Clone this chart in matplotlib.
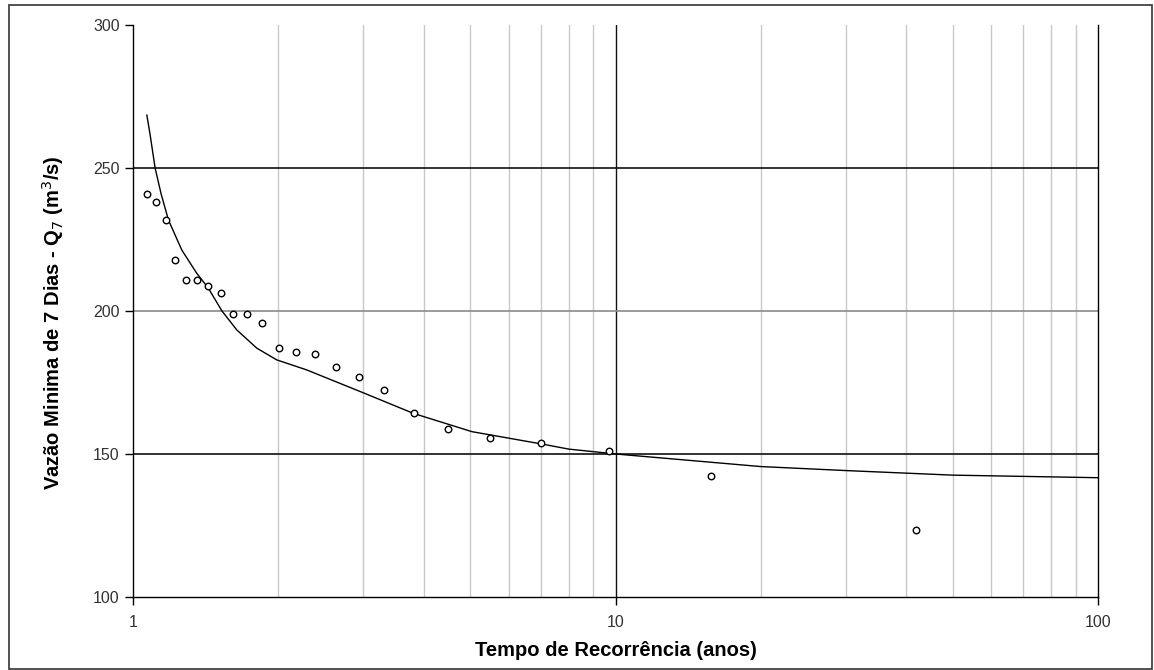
import matplotlib
matplotlib.use("Agg")
import matplotlib.pyplot as plt
from matplotlib.patches import Rectangle
import numpy as np

plt.rcParams['font.family'] = ['Liberation Sans', 'DejaVu Sans']

# pontos observados (tempo de recorrência, Q7)
t_obs = [1.07, 1.116, 1.17, 1.222, 1.288, 1.357, 1.43, 1.52, 1.61, 1.72, 1.85,
         2.01, 2.18, 2.38, 2.64, 2.94, 3.31, 3.82, 4.5, 5.5, 7.0, 9.7, 15.8, 42.0]
q_obs = [240.9, 238.1, 231.8, 217.8, 210.8, 210.8, 208.7, 206.3, 199.0, 199.0, 195.8,
         187.1, 185.7, 185.0, 180.4, 177.0, 172.4, 164.3, 158.7, 155.6, 153.8, 151.0,
         142.3, 123.4]

# curva ajustada
t_fit = [1.068, 1.084, 1.111, 1.143, 1.184, 1.262, 1.355, 1.432, 1.527, 1.64,
         1.805, 1.985, 2.29, 3.02, 3.81, 5.04, 7.08, 8.0, 10.0,
         20.0, 30.0, 50.0, 100.0]
q_fit = [268.5, 262.0, 250.0, 241.0, 231.8, 221.3, 213.2, 208.0, 200.1, 193.4,
         187.0, 182.9, 179.4, 171.2, 164.2, 157.8, 153.4, 151.7, 150.0,
         145.6, 144.2, 142.6, 141.7]

fig = plt.figure(figsize=(11.54, 6.70), dpi=100)
ax = fig.add_axes([0.1153, 0.109, 0.8362, 0.8537])

ax.set_xscale('log')
ax.set_xlim(1, 100)
ax.set_ylim(100, 300)

# grade
minor_x = [m * 10 ** d for d in (0, 1) for m in range(2, 10)]
for xv in minor_x:
    ax.axvline(xv, color='#c8c8c8', lw=1.0, zorder=1)
ax.axvline(10, color='#111111', lw=1.0, zorder=1)
for yv, c in [(150, '#111111'), (200, '#8a8a8a'), (250, '#111111')]:
    ax.axhline(yv, color=c, lw=1.2, zorder=1)

ax.plot(t_fit, q_fit, color='black', lw=1.0, zorder=3)
ax.scatter(t_obs, q_obs, s=22, facecolors='white', edgecolors='black',
           linewidths=1.0, zorder=4)

ax.set_yticks([100, 150, 200, 250, 300])
ax.set_xticks([1, 10, 100])
ax.set_xticklabels(['1', '10', '100'])
ax.xaxis.set_minor_locator(matplotlib.ticker.NullLocator())
ax.tick_params(axis='both', labelsize=11.5, labelcolor='#333333', length=6,
               width=1.0, direction='out')
ax.tick_params(axis='x', pad=7)

for side in ['top', 'right', 'left', 'bottom']:
    ax.spines[side].set_color('black')
    ax.spines[side].set_linewidth(1.0)
ax.spines['top'].set_visible(False)

ax.set_xlabel('Tempo de Recorrência (anos)', fontsize=14.5, fontweight='bold',
              labelpad=8)
ax.set_ylabel('Vazão Minima de 7 Dias - Q$_7$ (m$^3$/s)', fontsize=14.5,
              fontweight='bold', labelpad=18)
ax.yaxis.set_label_coords(-0.07, 0.48)

# moldura externa
fig.patches.append(Rectangle((0.008, 0.002), 0.99, 0.99, transform=fig.transFigure,
                             fill=False, edgecolor='#333333', lw=1.2))

fig.savefig('out.png', dpi=100)
